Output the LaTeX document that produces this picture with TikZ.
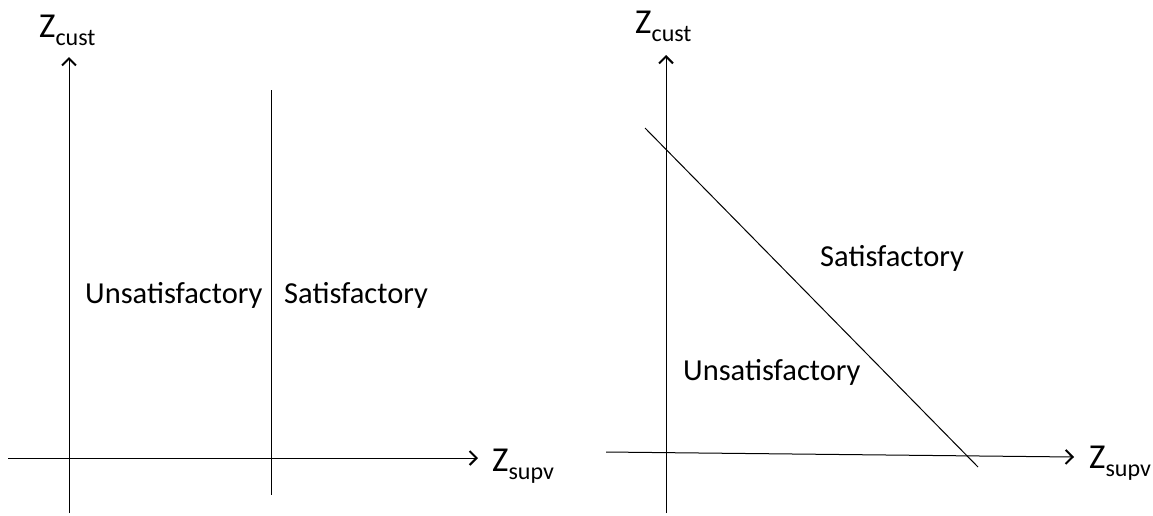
\documentclass[tikz,border=0pt]{standalone}
\usepackage{fontspec}
\setmainfont{Carlito}
\usetikzlibrary{arrows.meta}
\begin{document}
\begin{tikzpicture}[x=1pt,y=-1pt,
  axis/.style={line width=1pt,-{Straight Barb[length=7pt,width=14pt,line width=2pt]}},
  bound/.style={line width=1pt},
  region/.style={font=\fontsize{30.5}{30.5}\selectfont, inner sep=0pt},
  axlabel/.style={inner sep=0pt, anchor=base west}]
\useasboundingbox (0,0) rectangle (1153,515);
\newcommand{\axlab}[2]{{\fontsize{35}{35}\selectfont #1}{\fontsize{24}{24}\selectfont\raisebox{-8pt}{#2}}}
% left panel
\coordinate (Lyb) at (69,513);
\coordinate (Lyt) at (69,57);
\coordinate (Lxl) at (8,458);
\coordinate (Lxr) at (478,458);
\coordinate (Lvt) at (271,90);
\coordinate (Lvb) at (271,495);
\draw[axis] (Lyb) -- (Lyt);
\draw[axis] (Lxl) -- (Lxr);
\draw[bound] (Lvt) -- (Lvb);
\node[axlabel] (Lzc) at (39,37) {\axlab{Z}{cust}};
\node[axlabel] (Lzs) at (492,471) {\axlab{Z}{supv}};
\node[region, anchor=west] (Lun) at (85,295) {Unsatisfactory};
\node[region, anchor=west] (Lsa) at (284,295) {Satisfactory};
% right panel
\coordinate (Ryb) at (666,513);
\coordinate (Ryt) at (666,55);
\coordinate (Rxl) at (606,452);
\coordinate (Rxr) at (1074,457);
\coordinate (Rdt) at (645,128);
\coordinate (Rdb) at (978,467);
\draw[axis] (Ryb) -- (Ryt);
\draw[axis] (Rxl) -- (Rxr);
\draw[bound] (Rdt) -- (Rdb);
\node[axlabel] (Rzc) at (635,33) {\axlab{Z}{cust}};
\node[axlabel] (Rzs) at (1089,468) {\axlab{Z}{supv}};
\node[region, anchor=west] (Rsa) at (820,258) {Satisfactory};
\node[region, anchor=west] (Run) at (683,372) {Unsatisfactory};
\end{tikzpicture}
\end{document}
